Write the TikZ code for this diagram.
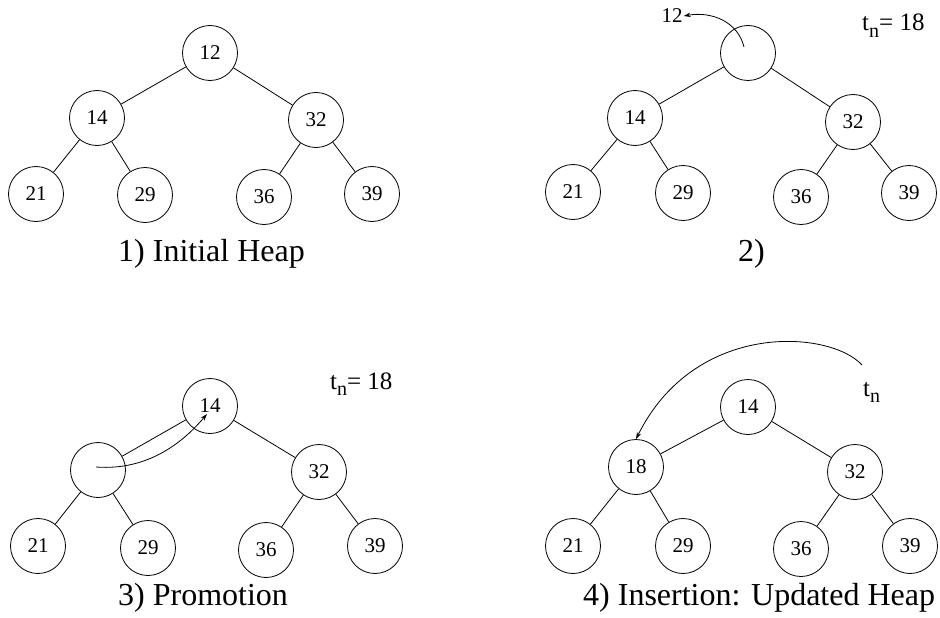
\documentclass[tikz,border=0pt]{standalone}
\usepackage{fontspec}
\setmainfont{Liberation Serif}
\usetikzlibrary{arrows.meta}
% t with a large, lowered subscript n
\newcommand{\tnlabel}{t\raisebox{-6pt}{\fontsize{20}{22}\selectfont n}}
\begin{document}
\begin{tikzpicture}[x=1pt,y=-1pt,
  hnode/.style={circle,draw,line width=0.8pt,minimum size=55pt,inner sep=0pt,font=\fontsize{21}{23}\selectfont},
  edge/.style={line width=0.8pt},
  mv/.style={line width=0.8pt,-{Stealth[length=7pt,width=4.5pt]}},
  captxt/.style={font=\fontsize{32}{36}\selectfont,anchor=base west,inner sep=0pt},
  tlab/.style={font=\fontsize{25}{28}\selectfont,anchor=base west,inner sep=0pt}]
\useasboundingbox (0,0) rectangle (940,618);

% 1) initial heap
\node[hnode] (a1) at (210,53) {12};
\node[hnode] (a2) at (97,118) {14};
\node[hnode] (a3) at (316,120) {32};
\node[hnode] (a4) at (36,194) {21};
\node[hnode] (a5) at (145,195) {29};
\node[hnode] (a6) at (264,197) {36};
\node[hnode] (a7) at (372,194) {39};
\draw[edge] (a1) -- (a2) (a1) -- (a3) (a2) -- (a4) (a2) -- (a5) (a3) -- (a6) (a3) -- (a7);
\node[captxt] (c1) at (118,261) {1) Initial Heap};

% 2) root removed
\node[hnode] (b1) at (748,53) {};
\node[hnode] (b2) at (635,118) {14};
\node[hnode] (b3) at (853,122) {32};
\node[hnode] (b4) at (573,192) {21};
\node[hnode] (b5) at (683,193) {29};
\node[hnode] (b6) at (801,197) {36};
\node[hnode] (b7) at (909,193) {39};
\draw[edge] (b1) -- (b2) (b1) -- (b3) (b2) -- (b4) (b2) -- (b5) (b3) -- (b6) (b3) -- (b7);
\node[font=\fontsize{21}{23}\selectfont,inner sep=1pt] (b0) at (672,16) {12};
\coordinate (bs) at (744,47);
\draw[mv] (bs) .. controls (738,22) and (712,11) .. (b0.east);
\node[tlab] (bt) at (862,31) {\tnlabel= 18};
\node[captxt] (c2) at (738,261) {2)};

% 3) promotion
\node[hnode] (d1) at (210,406) {14};
\node[hnode] (d2) at (98,470) {};
\node[hnode] (d3) at (319,472) {32};
\node[hnode] (d4) at (38,546) {21};
\node[hnode] (d5) at (148,548) {29};
\node[hnode] (d6) at (266,550) {36};
\node[hnode] (d7) at (375,546) {39};
\draw[edge] (d1) -- (d2) (d1) -- (d3) (d2) -- (d4) (d2) -- (d5) (d3) -- (d6) (d3) -- (d7);
\coordinate (ds) at (96,467);
\coordinate (dt) at (207,414);
\draw[mv] (ds) .. controls (150,471) and (185,440) .. (dt);
\node[tlab] (dtn) at (330,389) {\tnlabel= 18};
\node[captxt] (c3) at (118,605) {3) Promotion};

% 4) insertion
\node[hnode] (e1) at (748,407) {14};
\node[hnode] (e2) at (636,467) {18};
\node[hnode] (e3) at (855,472) {32};
\node[hnode] (e4) at (573,546) {21};
\node[hnode] (e5) at (683,546) {29};
\node[hnode] (e6) at (801,549) {36};
\node[hnode] (e7) at (910,546) {39};
\draw[edge] (e1) -- (e2) (e1) -- (e3) (e2) -- (e4) (e2) -- (e5) (e3) -- (e6) (e3) -- (e7);
\node[tlab] (etn) at (863,396) {\tnlabel};
\coordinate (es) at (862,365);
\draw[mv] (es) .. controls (830,330) and (695,320) .. (e2.north);
\node[captxt] (c4) at (583,605) {4) Insertion: Updated Heap};
\end{tikzpicture}
\end{document}
